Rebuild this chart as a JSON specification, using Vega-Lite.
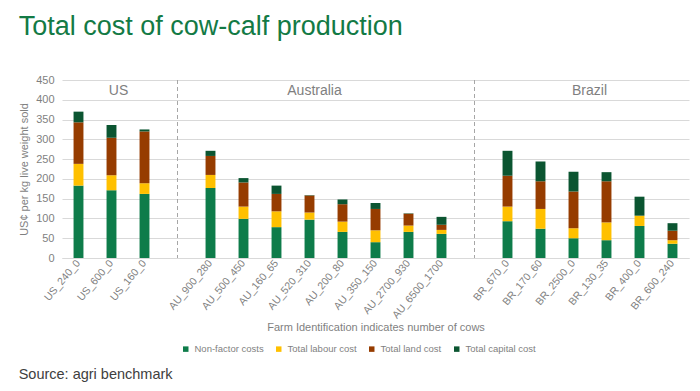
{
  "$schema": "https://vega.github.io/schema/vega-lite/v6.json",
  "padding": {"left": 18, "top": 13, "right": 5, "bottom": 5},
  "background": "white",
  "title": {"text": "Source: agri benchmark", "orient": "bottom", "anchor": "start", "frame": "bounds", "fontSize": 14.5, "fontWeight": "normal", "color": "#404040", "font": "Liberation Sans", "offset": 14},
  "datasets": {
    "costs": [
      {"farm": "US_240_0", "Non-factor costs": 183, "Total labour cost": 55, "Total land cost": 105, "Total capital cost": 27},
      {"farm": "US_600_0", "Non-factor costs": 171, "Total labour cost": 38, "Total land cost": 95, "Total capital cost": 32},
      {"farm": "US_160_0", "Non-factor costs": 162, "Total labour cost": 27, "Total land cost": 131, "Total capital cost": 5},
      {"farm": "AU_900_280", "Non-factor costs": 177, "Total labour cost": 33, "Total land cost": 48, "Total capital cost": 13},
      {"farm": "AU_500_450", "Non-factor costs": 99, "Total labour cost": 31, "Total land cost": 61, "Total capital cost": 11},
      {"farm": "AU_160_65", "Non-factor costs": 78, "Total labour cost": 40, "Total land cost": 44, "Total capital cost": 21},
      {"farm": "AU_520_310", "Non-factor costs": 97, "Total labour cost": 18, "Total land cost": 43, "Total capital cost": 1},
      {"farm": "AU_200_80", "Non-factor costs": 66, "Total labour cost": 26, "Total land cost": 44, "Total capital cost": 12},
      {"farm": "AU_350_150", "Non-factor costs": 40, "Total labour cost": 30, "Total land cost": 54, "Total capital cost": 15},
      {"farm": "AU_2700_930", "Non-factor costs": 66, "Total labour cost": 16, "Total land cost": 30, "Total capital cost": 1},
      {"farm": "AU_6500_1700", "Non-factor costs": 61, "Total labour cost": 10, "Total land cost": 13, "Total capital cost": 20},
      {"farm": "BR_670_0", "Non-factor costs": 93, "Total labour cost": 37, "Total land cost": 78, "Total capital cost": 63},
      {"farm": "BR_170_60", "Non-factor costs": 74, "Total labour cost": 50, "Total land cost": 70, "Total capital cost": 50},
      {"farm": "BR_2500_0", "Non-factor costs": 50, "Total labour cost": 25, "Total land cost": 93, "Total capital cost": 50},
      {"farm": "BR_130_35", "Non-factor costs": 45, "Total labour cost": 45, "Total land cost": 104, "Total capital cost": 23},
      {"farm": "BR_400_0", "Non-factor costs": 81, "Total labour cost": 26, "Total land cost": 0, "Total capital cost": 48},
      {"farm": "BR_600_240", "Non-factor costs": 36, "Total labour cost": 9, "Total land cost": 24, "Total capital cost": 19}
    ],
    "gaps": [{"farm": "gap1"}, {"farm": "gap2"}],
    "us": [{"farm": "US_600_0", "label": "US", "value": 422}],
    "au": [{"farm": "AU_520_310", "label": "Australia", "value": 422}],
    "br": [{"farm": "BR_2500_0", "label": "Brazil", "value": 422}]
  },
  "vconcat": [
    {
      "title": {"text": "Total cost of cow-calf production", "anchor": "start", "frame": "bounds", "fontSize": 27, "fontWeight": "normal", "color": "#137a45", "font": "Liberation Sans", "offset": 33},
      "width": 627,
      "height": 178,
      "encoding": {
        "x": {
          "field": "farm", "type": "nominal",
          "scale": {
            "domain": ["US_240_0", "US_600_0", "US_160_0", "gap1", "AU_900_280", "AU_500_450", "AU_160_65", "AU_520_310", "AU_200_80", "AU_350_150", "AU_2700_930", "AU_6500_1700", "gap2", "BR_670_0", "BR_170_60", "BR_2500_0", "BR_130_35", "BR_400_0", "BR_600_240"],
            "paddingInner": 0.7, "paddingOuter": 0.35
          },
          "axis": {
            "title": "Farm Identification indicates number of cows",
            "labelAngle": -50,
            "labelExpr": "indexof(datum.label, 'gap') >= 0 ? '' : datum.label",
            "labelColor": "#7f7f7f", "labelFontSize": 10.5, "labelPadding": 3,
            "ticks": false, "domainColor": "#d9d9d9",
            "titleColor": "#7f7f7f", "titleFontSize": 11, "titleFontWeight": "normal", "titlePadding": 1
          }
        },
        "y": {
          "field": "value", "type": "quantitative",
          "scale": {"domain": [0, 450]},
          "axis": {
            "title": "US¢ per kg live weight sold",
            "values": [0, 50, 100, 150, 200, 250, 300, 350, 400, 450],
            "labelOverlap": false,
            "gridColor": "#d9d9d9", "domain": false, "ticks": false,
            "labelColor": "#7f7f7f", "labelFontSize": 11, "labelPadding": 8,
            "titleColor": "#7f7f7f", "titleFontSize": 11, "titleFontWeight": "normal", "titlePadding": 6
          }
        }
      },
      "layer": [
        {
          "data": {"name": "costs"},
          "transform": [
            {"fold": ["Non-factor costs", "Total labour cost", "Total land cost", "Total capital cost"], "as": ["cost", "value"]},
            {"window": [{"op": "row_number", "as": "k"}], "groupby": ["farm"]}
          ],
          "mark": {"type": "bar"},
          "encoding": {
            "color": {
              "field": "cost", "type": "nominal",
              "scale": {
                "domain": ["Non-factor costs", "Total labour cost", "Total land cost", "Total capital cost"],
                "range": ["#0e7c4a", "#ffc000", "#963c00", "#0b5531"]
              },
              "legend": {
                "title": null, "orient": "none", "legendX": 119, "legendY": 264, "direction": "horizontal",
                "symbolType": "square", "symbolSize": 30, "symbolStrokeWidth": 0,
                "labelColor": "#7f7f7f", "labelFontSize": 9.5, "columnPadding": 10, "labelOffset": 4
              }
            },
            "order": {"field": "k", "type": "quantitative", "sort": "ascending"}
          }
        },
        {
          "data": {"name": "gaps"},
          "mark": {"type": "rule", "strokeDash": [4, 3], "color": "#a6a6a6", "strokeWidth": 1},
          "encoding": {"y": null}
        },
        {
          "data": {"name": "us"},
          "mark": {"type": "text", "fontSize": 14, "color": "#7f7f7f", "dx": 7, "baseline": "middle"},
          "encoding": {"text": {"field": "label"}}
        },
        {
          "data": {"name": "au"},
          "mark": {"type": "text", "fontSize": 14, "color": "#7f7f7f", "dx": 5, "baseline": "middle"},
          "encoding": {"text": {"field": "label"}}
        },
        {
          "data": {"name": "br"},
          "mark": {"type": "text", "fontSize": 14, "color": "#7f7f7f", "dx": 16, "baseline": "middle"},
          "encoding": {"text": {"field": "label"}}
        }
      ]
    }
  ],
  "config": {
    "font": "Liberation Sans",
    "view": {"stroke": null}
  }
}
